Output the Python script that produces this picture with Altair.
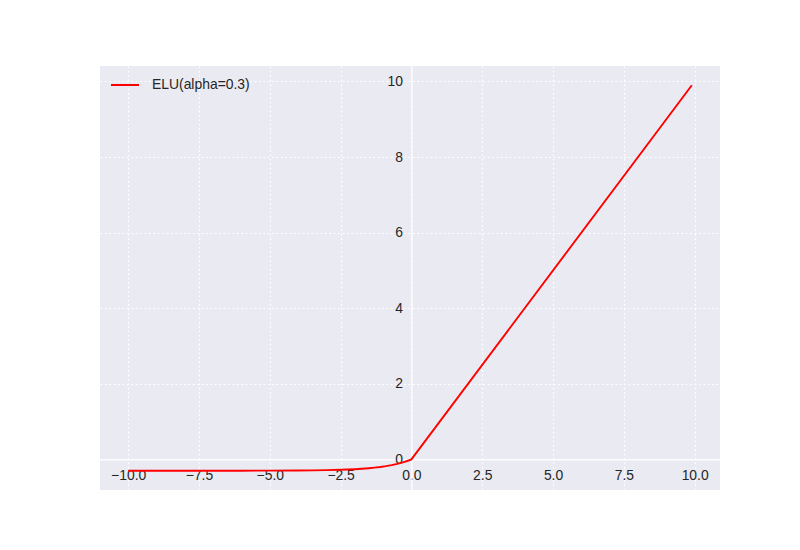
import altair as alt
import pandas as pd

# values
xs = [-10.0, -8.0, -6.0, -5.0, -4.0, -3.5, -3.0, -2.5, -2.0, -1.75, -1.5, -1.3, -1.1, -0.9, -0.7, -0.5, -0.3, -0.1, 0.0, 9.9]
ys = [-0.300, -0.300, -0.299, -0.298, -0.295, -0.291, -0.285, -0.275, -0.259, -0.248, -0.233, -0.218, -0.200, -0.178, -0.151, -0.118, -0.078, -0.029, 0.0, 9.9]
series = ["ELU(alpha=0.3)"] * len(xs)

x_ticks = [-10.0, -7.5, -5.0, -2.5, 0.0, 2.5, 5.0, 7.5, 10.0]
y_ticks = [0, 2, 4, 6, 8, 10]

df = pd.DataFrame({"x": xs, "y": ys, "s": series})

W, H = 620, 424
xdom = [-10.995, 10.895]
ydom = [-0.81, 10.41]
x_off = -(0 - xdom[0]) / (xdom[1] - xdom[0]) * W
y_off = -(0 - ydom[0]) / (ydom[1] - ydom[0]) * H

FONT = "Liberation Sans"
FS = 13.9

common = dict(title=None, tickSize=0, domainColor="white", domainWidth=1.25,
              gridColor="white", gridDash=[1.8, 2.6], gridWidth=1.2, gridOpacity=1,
              labelFont=FONT, labelFontSize=FS, labelColor="#262626")

chart = alt.Chart(df).mark_line(strokeWidth=1.9, clip=True).encode(
    x=alt.X("x:Q", scale=alt.Scale(domain=xdom, nice=False, zero=False),
            axis=alt.Axis(values=x_ticks, format=".1f", offset=y_off, labelPadding=9, **common)),
    y=alt.Y("y:Q", scale=alt.Scale(domain=ydom, nice=False, zero=False),
            axis=alt.Axis(values=y_ticks, format="d", offset=x_off, labelPadding=9, **common)),
    color=alt.Color("s:N", scale=alt.Scale(domain=["ELU(alpha=0.3)"], range=["#ff0000"]),
                    legend=alt.Legend(title=None, orient="none", legendX=10, legendY=4,
                                      symbolType="stroke", symbolSize=784, symbolStrokeWidth=2,
                                      labelFont=FONT, labelFontSize=FS, labelColor="#262626",
                                      labelOffset=12)),
).properties(
    width=W, height=H,
    autosize=alt.AutoSizeParams(type="none"),
    padding={"left": 92, "top": 58, "right": 72, "bottom": 46},
).configure_view(
    fill="#EAEAF2", stroke=None
)

chart.save("out.html", embed_options={"renderer": "svg", "actions": False})
